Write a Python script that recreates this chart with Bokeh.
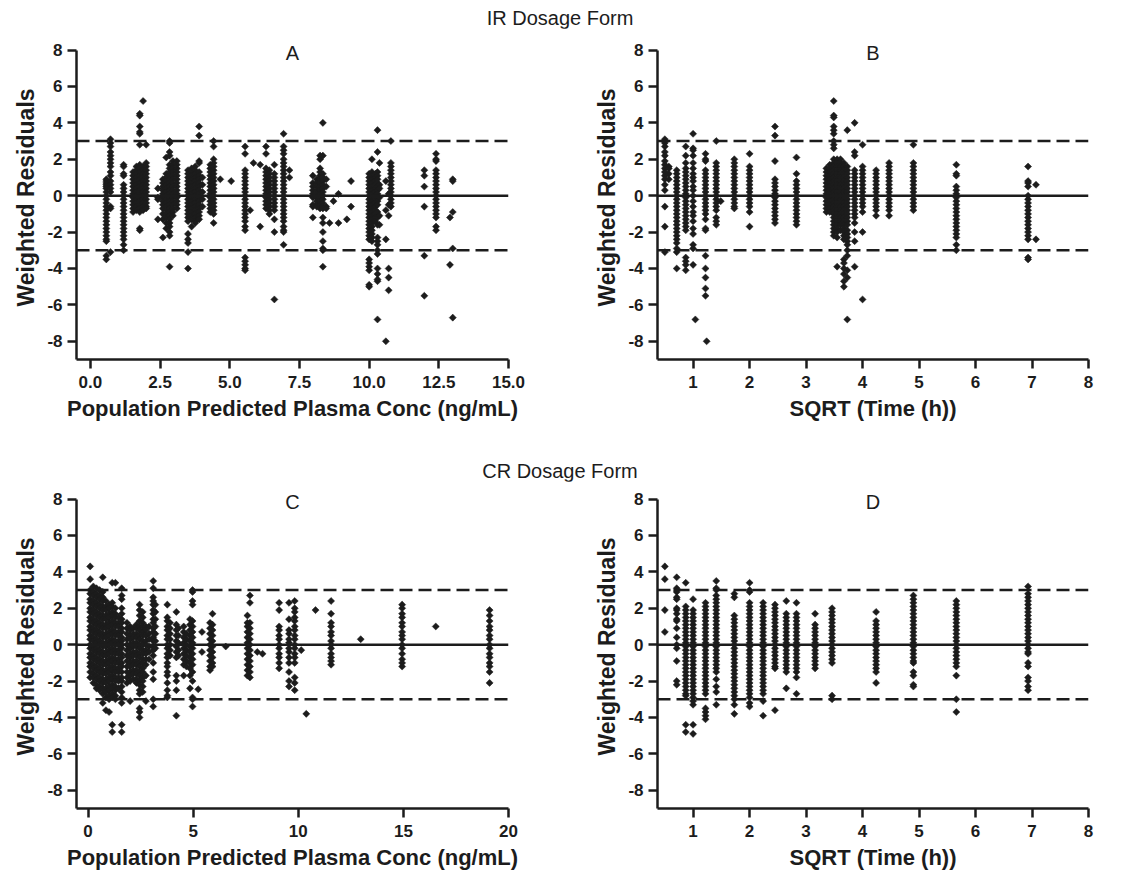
from bokeh.plotting import figure
from bokeh.models import Span, Label, FixedTicker, Div, Range1d, CustomJSTickFormatter
from bokeh.layouts import column, row
from bokeh.embed import file_html
from bokeh.resources import INLINE

# ---------------- data ----------------
Y_TICKS = [-8, -6, -4, -2, 0, 2, 4, 6, 8]
A_TICKS = [0, 2.5, 5, 7.5, 10, 12.5, 15]
B_TICKS = [1, 2, 3, 4, 5, 6, 7, 8]
C_TICKS = [0, 5, 10, 15, 20]

# Panel A: IR, residuals vs population predicted concentration
A_x = [0.57, 0.72, 1.19, 1.53, 1.65, 1.77, 1.89, 2.0, 2.42, 2.6, 2.72, 2.84, 2.96, 3.1,
       3.5, 3.63, 3.76, 3.9, 4.02, 4.3, 4.42, 4.66, 5.05, 5.55, 5.73, 5.85, 6.09,
       6.3, 6.42, 6.6, 6.93, 7.14, 7.98, 8.12, 8.24, 8.34, 8.46, 8.58, 8.72, 8.9, 9.2, 9.35,
       10.0, 10.1, 10.22, 10.3, 10.37, 10.6, 10.7, 10.78, 11.98, 12.4, 12.9, 13.0]
A_y = [
    [0.9, 0.8, 0.7, 0.6, 0.5, 0.4, 0.2, 0.0, -0.2, -0.4, -0.6, -0.8, -1.0, -1.2, -1.4, -1.6, -1.8, -2.0, -2.2, -2.4, -2.5, -3.3, -3.5],
    [3.1, 2.9, 2.7, 2.4, 2.2, 2.0, 1.8, 1.6, 1.3, 1.1, 0.8, 0.6, 0.4, 0.2, -0.6, -0.7, -3.1],
    [1.7, 1.6, 1.2, 1.1, 0.6, 0.4, 0.2, 0.0, -0.2, -0.4, -0.6, -0.8, -1.0, -1.2, -1.4, -1.6, -1.8, -2.0, -2.2, -2.4, -2.7, -3.0],
    [1.3, 1.1, 0.9, 0.7, 0.5, 0.3, 0.1, -0.1, -0.3, -0.5, -0.7, -0.9],
    [1.6, 1.4, 1.2, 1.0, 0.8, 0.6, 0.4, 0.2, 0.0, -0.2, -0.4, -0.6, -0.8],
    [4.5, 4.4, 3.8, 3.5, 3.4, 2.8, 1.7, 1.5, 1.3, 1.1, 0.9, 0.7, 0.5, 0.3, 0.1, -0.1, -0.3, -0.5, -0.7, -0.9, -1.8, -1.9],
    [5.2, 1.6, 1.4, 1.2, 1.0, 0.8, 0.6, 0.4, 0.2, 0.0, -0.2, -0.4, -0.6, -0.8],
    [2.8, 1.8, 1.6, 1.4, 1.2, 1.0, 0.8, 0.6, 0.4, 0.2, 0.0, -0.2, -0.4, -0.6, -0.7],
    [0.4, -0.1, -0.2, -1.3],
    [0.9, 0.7, 0.5, 0.3, 0.1, -0.1, -0.3, -0.5, -0.7, -1.0, -1.3, -2.3],
    [2.1, 1.2, 1.0, 0.8, 0.6, 0.4, 0.2, 0.0, -0.2, -0.4, -0.6, -0.8, -1.0, -1.2, -1.5, -1.8],
    [3.0, 2.9, 2.4, 2.2, 1.7, 1.5, 1.3, 1.1, 0.9, 0.7, 0.5, 0.3, 0.1, -0.1, -0.3, -0.5, -0.7, -0.9, -1.1, -1.3, -1.5, -1.7, -2.0, -2.2, -3.9],
    [1.9, 1.7, 1.5, 1.3, 1.1, 0.9, 0.7, 0.5, 0.3, 0.1, -0.1, -0.3, -0.5, -0.7, -0.9, -1.1],
    [1.9, 1.7, 1.5, 1.3, 1.1, 0.9, 0.7, 0.5, 0.3, 0.1, -0.1, -0.3, -0.5, -0.7],
    [1.4, 1.2, 1.0, 0.8, 0.6, 0.4, 0.2, 0.0, -0.2, -0.4, -0.6, -0.8, -1.0, -1.2, -1.4, -2.1, -2.4, -2.6, -3.1, -4.0],
    [1.5, 1.3, 1.1, 0.9, 0.7, 0.5, 0.3, 0.1, -0.1, -0.3, -0.5, -0.7, -0.9, -1.1, -1.3, -1.7],
    [1.6, 1.4, 1.2, 1.0, 0.8, 0.6, 0.4, 0.2, 0.0, -0.2, -0.4, -0.6, -0.8, -1.0, -1.2, -1.4, -1.5],
    [3.8, 3.3, 1.9, 1.8, 1.3, 1.1, 0.9, 0.7, 0.5, 0.3, 0.1, -0.1, -0.3, -0.5, -0.7, -0.9, -1.1, -1.3],
    [1.0, 0.6, 0.2, -0.2, -0.6],
    [1.7, 1.5, 1.3, 1.1, 0.9, 0.7, 0.5, 0.3, 0.1, -0.1, -0.3, -0.5, -0.7, -0.9],
    [3.0, 2.7, 2.0, 1.8, 1.6, 1.4, 1.2, 1.0, 0.8, 0.6, 0.4, 0.2, 0.0, -0.2, -0.4, -0.6, -0.8, -1.0, -1.5],
    [0.9],
    [0.8],
    [2.7, 2.3, 1.4, 1.2, 1.0, 0.8, 0.6, 0.4, 0.2, 0.0, -0.2, -0.4, -0.6, -0.8, -1.0, -1.2, -1.4, -1.7, -1.9, -3.4, -3.6, -3.8, -4.0, -4.1],
    [-0.8],
    [1.8],
    [1.7, -1.7],
    [2.7, 2.3, 1.5, 1.3, 1.1, 0.9, 0.7, 0.5, 0.3, 0.1, -0.1, -0.3, -0.5, -0.7],
    [1.4, 1.2, 1.0, 0.8, 0.6, 0.4, 0.2, 0.0, -0.2, -0.4, -0.6, -0.8, -1.0],
    [1.7, 1.2, 1.0, 0.8, 0.6, 0.4, 0.2, 0.0, -0.2, -0.4, -0.6, -0.8, -1.3, -2.0, -5.7],
    [3.4, 2.7, 2.5, 2.3, 2.0, 1.8, 1.6, 1.4, 1.2, 1.0, 0.8, 0.6, 0.4, 0.2, 0.0, -0.2, -0.4, -0.6, -0.8, -1.0, -1.2, -1.4, -1.7, -1.9, -2.0, -2.7],
    [1.4, 1.0],
    [1.1, 0.7, 0.5, 0.3, 0.1, -0.1, -0.5, -0.6, -1.2],
    [0.9, 0.7, 0.5, 0.3, 0.1, -0.1, -0.3, -0.5, -0.6],
    [2.2, 2.0, 1.5, 1.3, 1.1, 0.9, 0.7, 0.5, 0.3, 0.1, -0.1, -0.3, -0.5, -0.7],
    [4.0, 2.2, 1.2, 1.0, 0.8, 0.6, 0.4, 0.2, 0.0, -0.2, -0.4, -0.6, -0.7, -1.2, -1.5, -2.0, -2.5, -2.9, -3.0, -3.9],
    [0.9, 0.5, -0.6, -0.7],
    [-1.5],
    [-0.3],
    [-1.5, 0.1],
    [-1.3],
    [0.8, -0.6],
    [1.2, 1.0, 0.8, 0.6, 0.4, 0.2, 0.0, -0.2, -0.4, -0.6, -0.8, -1.0, -1.2, -1.4, -1.6, -1.8, -2.0, -2.2, -2.4, -3.5, -3.7, -3.9, -4.1, -4.9, -5.0],
    [2.0, 1.3, 1.1, 0.9, 0.7, 0.5, 0.3, 0.1, -0.1, -0.3, -0.5, -0.7, -0.9, -1.1, -1.3, -1.5, -1.7, -1.9, -2.1, -2.3, -2.5],
    [1.2, 1.0, 0.8, 0.6, 0.4, 0.2, 0.0, -0.2, -0.4, -0.6, -0.8, -1.0, -1.2, -1.4],
    [3.6, 2.4, 1.3, 1.1, 0.9, 0.7, 0.5, 0.3, 0.1, -0.1, -0.3, -0.5, -0.9, -1.2, -1.6, -2.3, -2.5, -2.7, -3.0, -3.2, -4.0, -4.3, -4.6, -4.7, -6.8],
    [1.8, 0.6, 0.4, -0.1, -1.1, -1.6],
    [0.8, -0.8, -2.4, -8.0],
    [0.1, -0.5, -1.1, -4.0, -4.5, -5.2],
    [3.0, 1.8, 1.6, 1.4, 1.2, 1.0, 0.8, 0.6, 0.4, 0.2, 0.0, -0.2, -0.4, -0.6],
    [1.4, 1.1, 0.5, -0.6, -3.3, -5.5],
    [2.3, 2.0, 1.9, 1.4, 1.2, 1.0, 0.8, 0.6, 0.4, 0.2, 0.0, -0.2, -0.4, -0.6, -0.8, -1.0, -1.2, -1.7, -1.9],
    [-1.2, -3.8],
    [0.9, 0.8, -0.9, -2.9, -6.7],
]

# Panel B: IR, residuals vs SQRT(time)
B_x = [0.5, 0.57, 0.71, 0.87, 1.0, 1.04, 1.22, 1.24, 1.41, 1.49, 1.73, 2.0, 2.45, 2.83,
       3.36, 3.42, 3.49, 3.55, 3.61, 3.67, 3.73, 3.86, 4.0, 4.24, 4.47, 4.9, 5.66, 6.93, 7.07]
B_y = [
    [3.1, 2.9, 2.7, 2.4, 2.2, 1.9, 1.7, 1.5, 1.3, 1.1, 0.9, 0.6, 0.3, -0.6, -1.7, -3.1],
    [1.6, 1.5, 1.2, 0.9],
    [1.4, 1.2, 1.0, 0.8, 0.6, 0.4, 0.2, 0.0, -0.2, -0.4, -0.6, -0.8, -1.0, -1.2, -1.4, -1.6, -1.8, -2.0, -2.2, -2.4, -2.6, -2.9, -3.1, -4.0],
    [2.7, 2.2, 1.8, 1.5, 1.3, 1.1, 0.9, 0.7, 0.5, 0.3, 0.1, -0.1, -0.3, -0.5, -0.7, -0.9, -1.1, -1.3, -1.5, -1.7, -1.9, -3.4, -3.6, -3.8, -4.1],
    [3.4, 2.6, 2.5, 2.2, 1.8, 1.5, 1.2, 1.0, 0.8, 0.5, 0.3, 0.0, -0.3, -0.6, -0.9, -1.1, -1.4, -1.8, -2.1, -2.7, -2.9, -3.8],
    [-6.8],
    [2.3, 2.0, 1.9, 1.4, 1.2, 1.0, 0.8, 0.6, 0.4, 0.2, 0.0, -0.2, -0.4, -0.6, -0.8, -1.0, -1.3, -1.8, -1.9, -3.3, -4.0, -4.5, -5.1, -5.5],
    [-8.0],
    [3.0, 1.8, 1.6, 1.4, 1.2, 1.0, 0.8, 0.6, 0.4, 0.2, 0.0, -0.2, -0.4, -0.6, -0.8, -1.2, -1.4, -1.6],
    [-0.3],
    [2.0, 1.8, 1.6, 1.4, 1.2, 1.0, 0.8, 0.6, 0.4, 0.2, 0.0, -0.2, -0.4, -0.6, -0.7],
    [2.3, 1.6, 1.4, 1.2, 1.0, 0.8, 0.6, 0.4, 0.2, 0.0, -0.2, -0.4, -0.6, -0.9, -1.7],
    [3.8, 3.3, 1.9, 0.9, 0.7, 0.5, 0.3, 0.1, -0.1, -0.3, -0.5, -0.7, -0.9, -1.1, -1.3, -1.5],
    [2.1, 1.2, 0.8, 0.6, 0.4, 0.2, 0.0, -0.2, -0.4, -0.6, -0.8, -1.0, -1.2, -1.4, -1.6],
    [1.5, 1.3, 1.1, 0.9, 0.7, 0.5, 0.3, 0.1, -0.1, -0.3, -0.5, -0.7, -0.9],
    [1.7, 1.5, 1.3, 1.1, 0.9, 0.7, 0.5, 0.3, 0.1, -0.1, -0.3, -0.5, -0.7, -0.9],
    [5.2, 4.4, 4.3, 3.8, 3.6, 3.4, 3.0, 2.8, 2.6, 2.0, 1.8, 1.6, 1.4, 1.2, 1.0, 0.8, 0.6, 0.4, 0.2, 0.0, -0.2, -0.4, -0.6, -0.8, -1.0, -1.2, -1.4, -1.6, -1.8, -2.0, -2.2],
    [2.0, 1.8, 1.6, 1.4, 1.2, 1.0, 0.8, 0.6, 0.4, 0.2, 0.0, -0.2, -0.4, -0.6, -0.8, -1.0, -1.2, -1.4, -1.6, -1.8, -2.0, -2.3, -3.9],
    [2.0, 1.8, 1.6, 1.4, 1.2, 1.0, 0.8, 0.6, 0.4, 0.2, 0.0, -0.2, -0.4, -0.6, -0.8, -1.0, -1.2, -1.4, -1.6, -1.9],
    [1.8, 1.6, 1.4, 1.2, 1.0, 0.8, 0.6, 0.4, 0.2, 0.0, -0.2, -0.4, -0.6, -0.8, -1.0, -1.2, -1.4, -1.6, -1.8, -2.0, -2.2, -2.4, -3.5, -3.7, -4.0, -4.3, -4.7, -5.0],
    [3.6, 1.6, 1.4, 1.2, 1.0, 0.8, 0.6, 0.4, 0.2, 0.0, -0.2, -0.4, -0.6, -0.8, -1.0, -1.2, -1.4, -1.6, -1.9, -2.1, -2.3, -2.5, -2.7, -3.0, -3.3, -4.1, -4.5, -6.8],
    [4.0, 2.4, 2.2, 1.4, 1.2, 1.0, 0.8, 0.6, 0.4, 0.2, 0.0, -0.2, -0.4, -0.6, -0.8, -1.0, -1.2, -1.5, -2.0, -2.5, -3.9],
    [2.8, 1.6, 1.4, 1.2, 1.0, 0.8, 0.6, 0.4, 0.2, 0.0, -0.2, -0.4, -0.6, -0.9, -2.0, -5.7],
    [1.4, 1.2, 1.0, 0.8, 0.6, 0.4, 0.2, 0.0, -0.2, -0.4, -0.6, -0.8, -1.1],
    [1.8, 1.6, 1.4, 1.2, 1.0, 0.8, 0.6, 0.4, 0.2, 0.0, -0.2, -0.4, -0.6, -0.8, -1.1],
    [2.8, 1.8, 1.6, 1.4, 1.2, 1.0, 0.8, 0.6, 0.4, 0.2, 0.0, -0.2, -0.4, -0.6, -0.8],
    [1.7, 1.2, 1.1, 0.5, 0.3, 0.1, -0.1, -0.3, -0.5, -0.7, -0.9, -1.1, -1.3, -1.5, -1.7, -1.9, -2.1, -2.3, -2.7, -3.0],
    [1.6, 0.8, 0.7, 0.5, 0.0, -0.2, -0.4, -0.6, -0.8, -1.0, -1.2, -1.4, -1.6, -1.8, -2.0, -2.2, -2.4, -3.4, -3.5],
    [0.6, -2.4],
]

# Panel C: CR, residuals vs population predicted concentration
C_x = [0.1, 0.25, 0.4, 0.55, 0.7, 0.85, 1.0, 1.15, 1.3, 1.45, 1.6,
       1.85, 2.0, 2.15, 2.3, 2.45, 2.6, 2.75, 2.9, 3.1, 3.2, 3.77, 3.9, 4.2, 4.3,
       4.55, 4.68, 4.85, 4.97, 5.24, 5.42, 5.8, 5.92, 6.55, 7.58, 7.7, 8.05, 8.3,
       9.09, 9.56, 9.83, 10.14, 10.38, 10.82, 11.56, 12.97, 14.94, 16.54, 19.1]
C_y = [
    [4.3, 3.6, 3.0, 2.8, 2.5, 2.3, 2.0, 1.8, 1.5, 1.3, 1.0, 0.8, 0.5, 0.3, 0.0, -0.2, -0.5, -0.7, -1.0, -1.2, -1.5, -1.8],
    [3.2, 2.9, 2.7, 2.4, 2.2, 1.9, 1.7, 1.4, 1.2, 0.9, 0.7, 0.4, 0.2, -0.1, -0.3, -0.6, -0.8, -1.1, -1.3, -1.6, -1.8, -2.1],
    [3.1, 2.8, 2.6, 2.3, 2.1, 1.8, 1.6, 1.3, 1.1, 0.8, 0.6, 0.3, 0.1, -0.2, -0.4, -0.7, -0.9, -1.2, -1.4, -1.7, -1.9, -2.2, -2.4],
    [3.0, 2.7, 2.5, 2.2, 2.0, 1.7, 1.5, 1.2, 1.0, 0.7, 0.5, 0.2, 0.0, -0.3, -0.5, -0.8, -1.0, -1.3, -1.5, -1.8, -2.0, -2.3, -2.5],
    [3.7, 2.9, 2.6, 2.4, 2.1, 1.9, 1.6, 1.4, 1.1, 0.9, 0.6, 0.4, 0.1, -0.1, -0.4, -0.6, -0.9, -1.1, -1.4, -1.6, -1.9, -2.1, -2.4, -2.7, -3.2],
    [2.4, 2.1, 1.9, 1.6, 1.4, 1.1, 0.9, 0.6, 0.4, 0.1, -0.1, -0.4, -0.6, -0.9, -1.1, -1.4, -1.6, -1.9, -2.1, -2.4, -2.6, -2.9, -3.6],
    [2.2, 2.0, 1.7, 1.5, 1.2, 1.0, 0.7, 0.5, 0.2, 0.0, -0.3, -0.5, -0.8, -1.0, -1.3, -1.5, -1.8, -2.0, -2.3, -2.5, -2.8, -3.0, -3.7],
    [3.4, 2.3, 2.1, 1.8, 1.6, 1.3, 1.1, 0.8, 0.6, 0.3, 0.1, -0.2, -0.4, -0.7, -0.9, -1.2, -1.4, -1.7, -1.9, -2.2, -2.4, -2.7, -2.9, -4.4, -4.8],
    [3.4, 2.0, 1.7, 1.5, 1.2, 1.0, 0.7, 0.5, 0.2, 0.0, -0.3, -0.5, -0.8, -1.0, -1.3, -1.5, -1.8, -2.0, -2.3, -2.5, -2.8, -3.0],
    [1.5, 1.2, 1.0, 0.7, 0.5, 0.2, 0.0, -0.3, -0.5, -0.8, -1.0, -1.3, -1.5, -1.8, -2.0, -2.4],
    [3.1, 2.7, 2.5, 2.0, 1.7, 1.4, 1.2, 0.9, 0.7, 0.4, 0.2, 0.0, -0.2, -0.5, -0.7, -1.0, -1.2, -1.5, -1.8, -2.0, -2.3, -2.6, -2.9, -3.2, -4.4, -4.8],
    [1.2, 0.9, 0.6, 0.3, 0.0, -0.3, -0.6, -0.9, -1.2, -1.5, -1.8, -2.1],
    [1.0, 0.8, 0.5, 0.3, 0.0, -0.2, -0.5, -0.7, -1.0, -1.2, -1.5, -1.7, -2.0, -3.1],
    [0.9, 0.6, 0.4, 0.1, -0.1, -0.4, -0.6, -0.9, -1.1, -1.4, -1.6, -1.9],
    [1.1, 0.9, 0.6, 0.4, 0.1, -0.1, -0.4, -0.6, -0.9, -1.1, -1.4, -1.6, -1.9, -2.1],
    [2.2, 1.9, 1.6, 1.3, 1.0, 0.8, 0.5, 0.3, 0.0, -0.2, -0.5, -0.7, -1.0, -1.2, -1.5, -1.7, -2.0, -2.2, -2.5, -2.7, -3.5, -3.7, -4.0],
    [1.8, 1.5, 1.2, 1.0, 0.7, 0.5, 0.2, 0.0, -0.3, -0.5, -0.8, -1.0, -1.3, -1.5, -1.8, -2.0, -2.3, -2.6],
    [1.0, 0.8, 0.5, 0.2, 0.0, -0.3, -0.5, -0.8, -1.1, -1.7, -3.1],
    [1.0, 0.6, 0.3, -0.1, -0.4, -0.8],
    [3.5, 3.1, 2.6, 2.4, 2.2, 1.9, 1.7, 1.4, 1.2, 0.9, 0.7, 0.4, 0.2, -0.1, -0.3, -0.6, -1.0, -1.5, -1.9, -3.0, -3.4],
    [2.2, 1.8, 1.4, 1.0, 0.6, 0.2, -0.2],
    [2.2, 1.5, 1.3, 1.0, 0.8, 0.5, 0.3, 0.0, -0.2, -0.5, -0.7, -1.0, -1.2, -1.5, -1.7, -2.1, -2.5, -2.8, -2.9],
    [1.2, 0.9, 0.6, 0.3, 0.0, -0.3, -0.6],
    [1.8, 1.1, 0.8, 0.5, 0.2, -0.1, -0.4, -0.7, -1.7, -2.0, -2.5, -3.9],
    [0.9, 0.5, 0.1, -0.3, -0.6],
    [1.0, 0.7, 0.4, 0.1, -0.2, -0.5, -0.8, -1.1, -1.7],
    [0.6, 0.3, 0.0, -0.3, -0.6, -0.9, -1.2],
    [1.4, 1.1, 0.8, 0.5, 0.2, -0.1, -0.4, -0.7, -1.0, -1.3, -1.7, -2.4],
    [3.0, 2.9, 2.4, 2.2, 1.3, 1.0, 0.7, 0.4, 0.1, -0.2, -0.5, -0.8, -1.1, -1.5, -2.0, -2.9, -3.0, -3.4],
    [-2.45],
    [0.7, -0.4],
    [1.2, 0.9, 0.6, 0.3, 0.0, -0.3, -0.6, -0.9, -1.2, -1.4],
    [1.7, 1.1, 0.8, 0.5, 0.2, -0.1, -0.4, -0.7, -1.0, -1.2],
    [-0.1],
    [1.6, 1.2, 1.0, 0.7, 0.4, 0.1, -0.2, -0.5, -0.8, -1.1, -1.4, -1.7],
    [2.7, 2.3, 1.2, 0.9, 0.6, 0.3, 0.0, -0.3, -0.6, -0.9, -1.2, -1.5, -1.8],
    [-0.4],
    [-0.5],
    [2.3, 1.9, 1.0, 0.8, 0.5, 0.3, 0.0, -0.2, -0.5, -0.7, -1.0, -1.3],
    [2.3, 1.4, 0.8, 0.6, 0.3, 0.1, -0.2, -0.4, -0.7, -1.0, -1.5, -2.0, -2.3],
    [2.4, 2.0, 1.8, 1.5, 1.3, 1.0, 0.8, 0.5, 0.3, 0.0, -0.2, -0.5, -0.7, -1.0, -1.8, -2.1, -2.5],
    [-0.3],
    [-3.8],
    [1.9],
    [2.4, 1.7, 1.2, 1.0, 0.7, 0.5, 0.2, 0.0, -0.2, -0.5, -0.7, -0.9, -1.1],
    [0.3],
    [2.2, 2.0, 1.7, 1.5, 1.2, 1.0, 0.7, 0.5, 0.3, 0.0, -0.2, -0.5, -0.8, -1.0, -1.2],
    [1.0],
    [1.9, 1.6, 1.3, 1.0, 0.8, 0.5, 0.3, 0.0, -0.2, -0.5, -0.7, -1.0, -1.2, -1.5, -2.1],
]

# Panel D: CR, residuals vs SQRT(time)
D_x = [0.5, 0.71, 0.87, 1.0, 1.22, 1.41, 1.73, 2.0, 2.24, 2.45, 2.65, 2.83, 3.16, 3.46,
       4.24, 4.9, 5.66, 6.93]
D_y = [
    [4.3, 3.6, 1.9, 0.7],
    [3.7, 3.1, 3.0, 2.9, 2.6, 2.5, 2.0, 1.9, 1.7, 1.4, 1.3, 0.9, 0.4, 0.0, -0.2, -0.9, -2.0, -2.2],
    [3.4, 2.1, 1.9, 1.7, 1.5, 1.3, 1.1, 0.9, 0.7, 0.5, 0.3, 0.1, -0.1, -0.3, -0.5, -0.7, -0.9, -1.1, -1.3, -1.5, -1.7, -1.9, -2.1, -2.3, -2.5, -2.7, -2.8, -4.4, -4.8],
    [2.5, 1.9, 1.7, 1.5, 1.3, 1.1, 0.9, 0.7, 0.5, 0.3, 0.1, -0.1, -0.3, -0.5, -0.7, -0.9, -1.1, -1.3, -1.5, -1.7, -1.9, -2.1, -2.3, -2.5, -2.7, -2.9, -3.1, -3.3, -4.4, -4.9],
    [2.3, 2.1, 1.9, 1.7, 1.5, 1.3, 1.1, 0.9, 0.7, 0.5, 0.3, 0.1, -0.1, -0.3, -0.5, -0.7, -0.9, -1.1, -1.3, -1.5, -1.7, -1.9, -2.1, -2.3, -2.5, -2.7, -3.5, -3.7, -3.9, -4.1],
    [3.5, 3.1, 3.0, 2.7, 2.5, 2.3, 2.1, 1.9, 1.7, 1.5, 1.3, 1.1, 0.9, 0.7, 0.5, 0.3, 0.1, -0.1, -0.3, -0.5, -0.7, -0.9, -1.1, -1.3, -1.5, -1.9, -2.3, -2.6, -3.3],
    [2.8, 2.6, 1.6, 1.4, 1.2, 1.0, 0.8, 0.6, 0.4, 0.2, 0.0, -0.2, -0.4, -0.6, -0.8, -1.0, -1.2, -1.4, -1.6, -1.8, -2.0, -2.2, -2.4, -2.6, -2.8, -3.0, -3.3, -3.8],
    [3.4, 3.0, 2.9, 2.3, 2.1, 1.9, 1.7, 1.5, 1.3, 1.1, 0.9, 0.7, 0.5, 0.3, 0.1, -0.1, -0.3, -0.5, -0.7, -0.9, -1.1, -1.3, -1.5, -1.7, -1.9, -2.1, -2.3, -2.5, -2.7, -2.9, -3.2, -3.4],
    [2.3, 2.1, 1.9, 1.7, 1.5, 1.3, 1.1, 0.9, 0.7, 0.5, 0.3, 0.1, -0.1, -0.3, -0.5, -0.7, -0.9, -1.1, -1.3, -1.5, -1.7, -1.9, -2.1, -2.3, -2.5, -2.7, -3.1, -3.9],
    [2.2, 2.0, 1.8, 1.6, 1.4, 1.2, 1.0, 0.8, 0.6, 0.4, 0.2, 0.0, -0.2, -0.4, -0.6, -0.8, -1.0, -1.2, -1.3, -3.6],
    [2.4, 1.7, 1.5, 1.3, 1.1, 0.9, 0.7, 0.5, 0.3, 0.1, -0.1, -0.3, -0.5, -0.7, -0.9, -1.1, -1.3, -1.5, -2.4],
    [2.3, 1.7, 1.5, 1.3, 1.1, 0.9, 0.7, 0.5, 0.3, 0.1, -0.1, -0.3, -0.5, -0.7, -0.9, -1.1, -1.3, -1.5, -1.8, -2.7],
    [1.7, 1.1, 0.9, 0.7, 0.5, 0.3, 0.1, -0.1, -0.3, -0.5, -0.7, -0.9, -1.1, -1.3],
    [2.0, 1.8, 1.6, 1.4, 1.2, 1.0, 0.8, 0.6, 0.4, 0.2, 0.0, -0.2, -0.4, -0.6, -0.8, -1.0, -2.8, -3.0],
    [1.8, 1.3, 1.1, 0.9, 0.7, 0.5, 0.3, 0.1, -0.1, -0.3, -0.5, -0.7, -0.9, -1.1, -1.3, -1.5, -2.1],
    [2.7, 2.5, 2.3, 2.1, 1.9, 1.7, 1.5, 1.3, 1.1, 0.9, 0.7, 0.5, 0.3, 0.1, -0.1, -0.3, -0.5, -0.7, -0.9, -1.0, -1.5, -1.7, -2.2, -2.3],
    [2.4, 2.2, 2.0, 1.8, 1.6, 1.4, 1.2, 1.0, 0.8, 0.6, 0.4, 0.2, 0.0, -0.2, -0.4, -0.6, -0.8, -1.0, -1.2, -1.7, -3.0, -3.7],
    [3.2, 2.8, 2.6, 2.4, 2.2, 2.0, 1.8, 1.6, 1.4, 1.2, 1.0, 0.8, 0.6, 0.4, 0.2, 0.0, -0.2, -0.4, -0.5, -1.0, -1.2, -1.8, -2.0, -2.3, -2.5],
]

# ---------------- styling ----------------
INK = "#1c1c1c"
FONT = "Liberation Sans"
Y_TOP = 8.8   # frame extends a little above the last tick so the panel letter is not clipped


def flatten(xs, ys):
    fx, fy = [], []
    for x, col in zip(xs, ys):
        for y in col:
            fx.append(x)
            fy.append(y)
    return fx, fy


def panel(xs, ys, x_start, x_end, xticks, letter, xlabel, width, height,
          bl, br, bt, bb, decimals=0):
    p = figure(width=width, height=height,
               x_range=Range1d(x_start, x_end), y_range=Range1d(-9, Y_TOP),
               output_backend="svg", toolbar_location=None,
               min_border_left=bl, min_border_right=br,
               min_border_top=bt, min_border_bottom=bb)
    p.outline_line_color = None
    p.background_fill_color = "white"
    p.border_fill_color = "white"
    p.xgrid.visible = False
    p.ygrid.visible = False

    p.add_layout(Span(location=0, dimension="width", line_color=INK, line_width=2.5))
    for lv in (3, -3):
        p.add_layout(Span(location=lv, dimension="width", line_color=INK,
                          line_width=2.5, line_dash="13 6"))

    fx, fy = flatten(xs, ys)
    # small diamonds: squares turned by 45 degrees
    p.scatter(fx, fy, marker="square", angle=0.7854, size=5, fill_color=INK,
              line_color=INK, line_width=0.5)

    for ax in (p.xaxis[0], p.yaxis[0]):
        ax.axis_line_width = 2.5
        ax.axis_line_color = INK
        ax.major_tick_line_width = 2.5
        ax.major_tick_line_color = INK
        ax.major_tick_out = 9
        ax.major_tick_in = 0
        ax.minor_tick_line_color = None
        ax.major_label_text_font = FONT
        ax.major_label_text_font_style = "bold"
        ax.major_label_text_font_size = "17px"
        ax.major_label_text_color = INK
        ax.axis_label_text_font = FONT
        ax.axis_label_text_font_style = "bold"
        ax.axis_label_text_color = INK
    p.xaxis[0].axis_label_text_font_size = "22px"
    p.yaxis[0].axis_label_text_font_size = "23px"

    p.xaxis[0].ticker = FixedTicker(ticks=xticks)
    p.yaxis[0].ticker = FixedTicker(ticks=Y_TICKS)
    p.yaxis[0].bounds = (-9, 8)
    p.xaxis[0].formatter = CustomJSTickFormatter(code="return tick.toFixed(%d);" % decimals)
    p.yaxis[0].formatter = CustomJSTickFormatter(code="return tick.toFixed(0);")
    p.xaxis[0].axis_label = xlabel
    p.yaxis[0].axis_label = "Weighted Residuals"
    p.xaxis[0].major_label_standoff = 7
    p.xaxis[0].axis_label_standoff = 5
    p.yaxis[0].major_label_standoff = 5
    p.yaxis[0].axis_label_standoff = 5

    p.add_layout(Label(x=(x_start + x_end) / 2, y=7.85, text=letter,
                       text_align="center", text_baseline="middle",
                       text_font=FONT, text_font_size="20px", text_color=INK))
    return p


pA = panel(A_x, A_y, -0.5, 15, A_TICKS, "A", "Population Predicted Plasma Conc (ng/mL)",
           580, 411, 76, 72, 7, 80, decimals=1)
pB = panel(B_x, B_y, 0.37, 8, B_TICKS, "B", "SQRT (Time (h))",
           540, 411, 77, 32, 7, 80)
pC = panel(C_x, C_y, -0.55, 20, C_TICKS, "C", "Population Predicted Plasma Conc (ng/mL)",
           580, 397, 76, 72, 3, 70)
pD = panel(D_x, D_y, 0.37, 8, B_TICKS, "D", "SQRT (Time (h))",
           540, 397, 77, 32, 3, 70)


def heading(txt, h, pad):
    html = ('<div style="width:1120px;text-align:center;font-family:\'Liberation Sans\';'
            'font-size:20px;line-height:20px;color:#1c1c1c;padding-top:%dpx;">%s</div>' % (pad, txt))
    return Div(text=html, width=1120, height=h, margin=0)


layout = column(heading("IR Dosage Form", 28, 8), row(pA, pB),
                heading("CR Dosage Form", 42, 22), row(pC, pD))

open("out.html", "w").write(file_html(layout, INLINE))
